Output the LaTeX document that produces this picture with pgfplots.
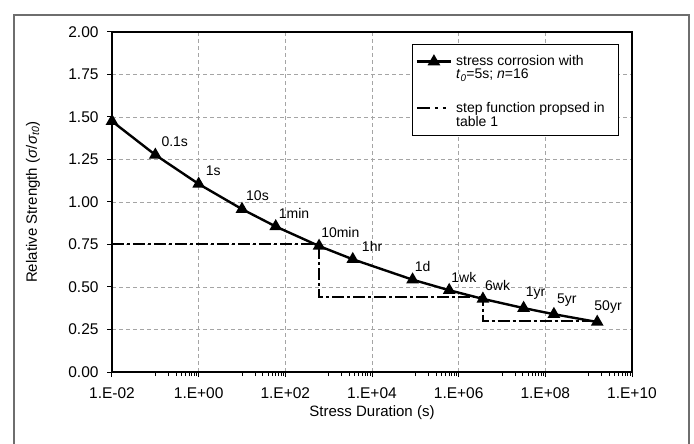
\documentclass[border=0pt]{standalone}
\usepackage{pgfplots}
\pgfplotsset{compat=1.18}
\usepackage{fontspec}
\setmainfont{Liberation Sans}
\definecolor{framegray}{RGB}{110,110,110}
\definecolor{gridgray}{RGB}{165,165,165}
\newcommand{\fs}{\fontsize{14bp}{16bp}\selectfont}
\newcommand{\ft}{\fontsize{15.5bp}{18bp}\selectfont}
\newcommand{\fl}{\fontsize{15bp}{18bp}\selectfont}
\pgfplotsset{
  curveleg/.style={legend image code/.code={\draw[##1, mark repeat=2, mark phase=2, yshift=4bp] plot coordinates {(0bp,0bp) (17bp,0bp) (34bp,0bp)};}},
  stepleg/.style={legend image code/.code={\draw[##1, yshift=4bp, dash pattern=on 13bp off 5bp on 3bp off 5bp on 3bp off 20bp] (0bp,0bp) -- (34bp,0bp);}},
}

\begin{document}
\begin{tikzpicture}
\useasboundingbox (0,0) rectangle (694bp,444bp);
\draw[framegray, line width=1.6bp] (14bp,-2bp) -- (14bp,429bp) -- (689bp,429bp) -- (689bp,-2bp);
\begin{axis}[
  at={(112bp,72bp)}, anchor=south west,
  width=520bp, height=340bp, scale only axis,
  xmode=log, log basis x=10,
  xmin=1e-2, xmax=1e10, ymin=0, ymax=2,
  xtick={1e-2,1,1e2,1e4,1e6,1e8,1e10},
  xticklabels={1.E-02,1.E+00,1.E+02,1.E+04,1.E+06,1.E+08,1.E+10},
  minor xtick={0.1,0.2,0.3,0.4,0.5,0.6,0.7,0.8,0.9,10,20,30,40,50,60,70,80,90,1000,2000,3000,4000,5000,6000,7000,8000,9000,1e5,2e5,3e5,4e5,5e5,6e5,7e5,8e5,9e5,1e7,2e7,3e7,4e7,5e7,6e7,7e7,8e7,9e7,1e9,2e9,3e9,4e9,5e9,6e9,7e9,8e9,9e9},
  ytick={0,0.25,0.5,0.75,1,1.25,1.5,1.75,2},
  yticklabel style={xshift=-5bp, /pgf/number format/.cd, fixed, fixed zerofill, precision=2, assume math mode=true},
  xticklabel style={yshift=-7bp},
  tick label style={font=\ft},
  tick align=outside, tick pos=left,
  major tick length=5bp, minor tick length=4bp,
  every tick/.style={black, line width=1bp},
  axis line style={black, line width=1.6bp},
  xmajorgrids, ymajorgrids,
  major grid style={gridgray, line width=0.9bp, dash pattern=on 4bp off 3bp},
  xlabel={Stress Duration (s)},
  ylabel={Relative Strength (\textit{σ}/\textit{σ}\textsubscript{\textit{t0}})},
  every axis x label/.style={at={(axis description cs:0.5,-0.12)}, anchor=center, font=\fl},
  every axis y label/.style={at={(axis description cs:-0.152,0.5)}, rotate=90, anchor=center, font=\fl},
  legend style={at={(0.577,0.965)}, anchor=north west, draw=black, line width=1.4bp,
    fill=white, inner xsep=3bp, inner ysep=7bp, row sep=0pt, column sep=3bp,
    font=\fs, nodes={inner sep=1bp}, cells={anchor=base west}},
  clip=false,
]
\addplot[black, line width=2.4bp, mark=triangle*, mark size=5bp,
  mark options={solid},
  point meta=explicit symbolic,
  nodes near coords,
  nodes near coords style={font=\fs, anchor=south west, inner sep=0pt, xshift=1bp, yshift=7bp},
  curveleg
] coordinates {
  (0.01,1.475) []
  (0.1,1.277) [\hspace*{4bp}0.1s]
  (1,1.106) [\hspace*{5bp}1s]
  (10,0.958) [\hspace*{2bp}10s]
  (60,0.856) [\hspace*{1bp}1min]
  (600,0.741) [10min]
  (3600,0.663) [\hspace*{7bp}1hr]
  (86400,0.543) [1d]
  (604800,0.481) [1wk]
  (3628800,0.430) [6wk]
  (31536000,0.376) [1yr]
  (157680000,0.340) [\hspace*{1bp}5yr]
  (1576800000,0.294) [\hspace*{-5bp}50yr]
};
\addlegendentry{\rule[-4bp]{0pt}{17bp}stress corrosion with}
\addlegendimage{empty legend}
\addlegendentry{\rule[-4bp]{0pt}{10.5bp}\textit{t}\textsubscript{\textit{0}}=5s; \textit{n}=16}
\addplot[black, line width=2bp, dash pattern=on 12bp off 3bp on 3bp off 3bp, stepleg
] coordinates {
  (0.01,0.75) (600,0.75) (600,0.44) (3628800,0.44) (3628800,0.30) (1576800000,0.30)
};
\addlegendentry{\rule[-4bp]{0pt}{34bp}step function propsed in\hspace*{10bp}}
\addlegendimage{empty legend}
\addlegendentry{\rule[-4bp]{0pt}{11bp}table 1}
\end{axis}
\end{tikzpicture}
\end{document}
